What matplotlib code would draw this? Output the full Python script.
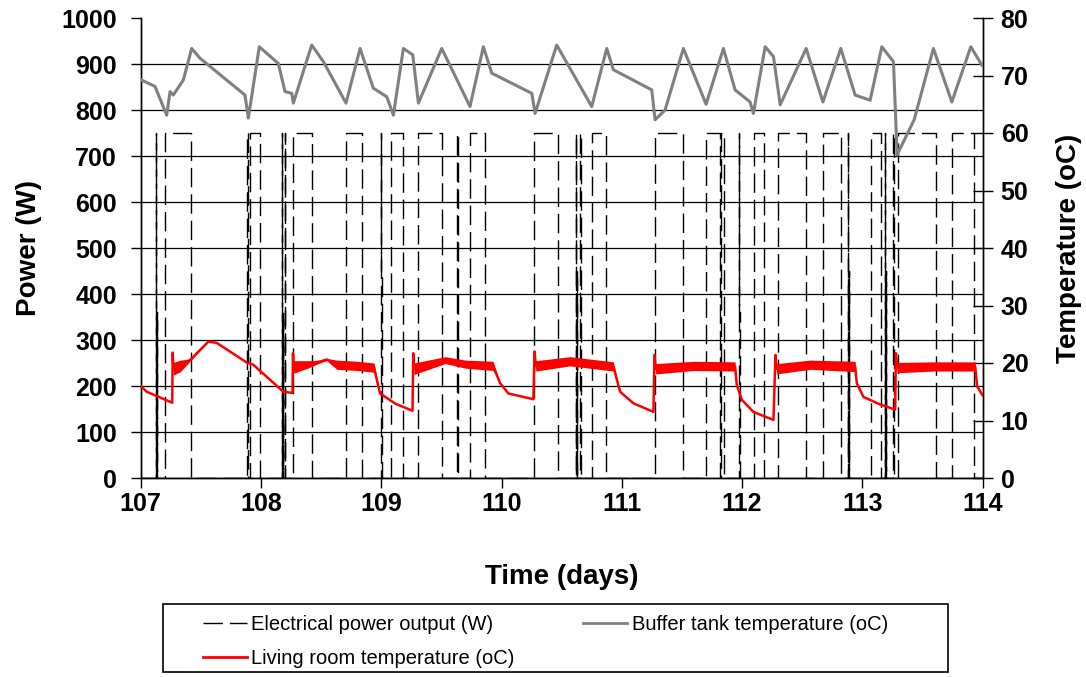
import matplotlib
matplotlib.use("Agg")
import matplotlib.pyplot as plt
from matplotlib.lines import Line2D
from matplotlib.patches import Rectangle
import numpy as np

plt.rcParams['font.family'] = ['Liberation Sans', 'DejaVu Sans']

# ---------------- data ----------------
x_ticks = [107, 108, 109, 110, 111, 112, 113, 114]
power_ticks = list(range(0, 1001, 100))
temp_ticks = list(range(0, 81, 10))

rated_power = 750  # W, level of the CHP on-periods

# on-periods of the electrical power output (days)
on_start = [107.128, 107.205, 107.886, 107.906, 108.174, 108.196, 108.267, 108.710,
            108.997, 109.081, 109.304, 109.632, 109.738, 110.273, 110.619, 110.655,
            110.753, 111.274, 111.704, 111.826, 111.972, 112.098, 112.300, 112.677,
            112.881, 113.071, 113.188, 113.258, 113.298, 113.749]
on_end = [107.131, 107.421, 107.890, 107.990, 108.177, 108.199, 108.425, 108.838,
          109.000, 109.184, 109.503, 109.635, 109.863, 110.473, 110.622, 110.658,
          110.872, 111.507, 111.820, 111.848, 111.975, 112.186, 112.535, 112.821,
          112.884, 113.154, 113.191, 113.261, 113.616, 113.930]

# short start-up spikes to partial power
spike_t = [107.134, 108.180, 109.002, 109.638, 110.625, 111.978, 112.887, 113.194, 113.264]
spike_p = [360, 360, 450, 360, 450, 360, 450, 450, 450]

# buffer tank temperature (oC)
buffer_t = [107.008, 107.119, 107.216, 107.244, 107.271, 107.354, 107.424, 107.493,
            107.867, 107.895, 107.986, 108.144, 108.200, 108.256, 108.269, 108.422,
            108.519, 108.707, 108.824, 108.934, 109.046, 109.101, 109.184, 109.262,
            109.309, 109.503, 109.738, 109.849, 109.919, 110.252, 110.279, 110.459,
            110.750, 110.875, 110.930, 111.249, 111.277, 111.360, 111.512, 111.701,
            111.845, 111.942, 112.067, 112.094, 112.192, 112.261, 112.317, 112.533,
            112.672, 112.821, 112.940, 113.065, 113.162, 113.259, 113.289, 113.431,
            113.591, 113.744, 113.902, 113.994]
buffer_T = [69.2, 68.1, 63.1, 67.2, 66.6, 69.2, 74.7, 73.0,
            66.6, 62.6, 75.0, 72.1, 67.2, 66.9, 65.2, 75.3,
            72.4, 65.2, 74.7, 67.8, 66.3, 63.1, 74.7, 73.6,
            65.2, 74.7, 64.6, 75.0, 70.4, 66.9, 63.4, 75.3,
            64.6, 74.7, 71.0, 67.5, 62.3, 64.0, 74.7, 65.0,
            74.7, 67.5, 65.4, 63.4, 75.0, 73.3, 64.9, 74.7,
            65.4, 74.7, 66.6, 65.7, 75.0, 72.4, 56.2, 62.3,
            74.7, 65.4, 75.0, 71.8]

# living room temperature (oC) and half-width of its fluctuation band
living_t = [107.000, 107.050, 107.262, 107.266, 107.272, 107.330, 107.410, 107.562,
            107.632, 107.881, 107.936, 108.186, 108.262, 108.266, 108.272, 108.400,
            108.500, 108.547, 108.630, 108.800, 108.940, 108.990, 109.120, 109.260,
            109.266, 109.272, 109.531, 109.700, 109.930, 109.988, 110.057, 110.265,
            110.275, 110.285, 110.570, 110.930, 110.986, 111.096, 111.263, 111.272,
            111.282, 111.600, 111.942, 111.956, 111.998, 112.094, 112.261, 112.278,
            112.288, 112.566, 112.940, 112.954, 113.009, 113.148, 113.273, 113.279,
            113.290, 113.600, 113.938, 113.955, 114.000]
living_T = [16.0, 15.0, 13.1, 21.8, 19.0, 19.5, 20.5, 23.7,
            23.5, 20.1, 19.7, 15.0, 14.8, 21.7, 19.3, 19.8,
            20.3, 20.6, 19.7, 19.5, 19.2, 14.7, 12.9, 11.7,
            21.7, 19.0, 20.5, 19.8, 19.5, 16.5, 14.7, 13.7,
            22.0, 19.5, 20.3, 19.4, 15.0, 13.0, 11.5, 21.4,
            19.0, 19.5, 19.4, 16.2, 13.6, 11.5, 10.1, 21.4,
            19.0, 19.7, 19.4, 16.5, 14.1, 12.8, 11.9, 21.7,
            19.2, 19.4, 19.4, 15.9, 14.4]
living_amp = [0, 0, 0, 0, 1.1, 1.0, 0.2, 0,
              0, 0, 0, 0, 0, 0, 1.1, 0.6,
              0.2, 0.2, 0.8, 0.8, 0.8, 0, 0, 0,
              0, 1.0, 0.6, 0.7, 0.8, 0, 0, 0,
              0, 0.9, 0.8, 0.8, 0, 0, 0, 0,
              0.9, 0.8, 0.8, 0, 0, 0, 0, 0,
              0.9, 0.8, 0.9, 0, 0, 0, 0, 0,
              0.9, 0.8, 0.8, 0, 0]

# ---------------- build power step series ----------------
segments = [(s, e, rated_power) for s, e in zip(on_start, on_end)]
segments += [(t, t + 0.0015, p) for t, p in zip(spike_t, spike_p)]
segments.sort()
pt, pp = [107.0], [0]
for s, e, lvl in segments:
    pt += [s, s, e, e]
    pp += [0, lvl, lvl, 0]
pt.append(114.0)
pp.append(0)

# ---------------- figure ----------------
W, H = 1086, 677
fig = plt.figure(figsize=(W / 100, H / 100), dpi=100)
ax_l, ax_r, ax_t, ax_b = 140.7, 982.6, 18, 478
ax = fig.add_axes([ax_l / W, 1 - ax_b / H, (ax_r - ax_l) / W, (ax_b - ax_t) / H])
ax2 = ax.twinx()

tick_fs = 18
lab_fs = 20

ax.plot(pt, pp, color='black', lw=1.0, dashes=(14, 5), zorder=3)
ax.set_xlim(107, 114)
ax.set_ylim(0, 1000)
ax.set_xticks(x_ticks)
ax.set_yticks(power_ticks)
ax.set_xticklabels([str(v) for v in x_ticks], fontsize=tick_fs, fontweight='bold')
ax.set_yticklabels([str(v) for v in power_ticks], fontsize=tick_fs, fontweight='bold')
ax.yaxis.grid(True, color='black', lw=0.9)
ax.set_axisbelow(True)
for gl in ax.get_ygridlines()[-1:]:
    gl.set_visible(False)
ax.tick_params(axis='y', direction='out', length=7, width=1, pad=10)
ax.tick_params(axis='x', direction='out', length=7, width=1, pad=3)
ax.set_ylabel('Power (W)', fontsize=lab_fs, fontweight='bold', labelpad=14)
ax.set_xlabel('Time (days)', fontsize=lab_fs, fontweight='bold', labelpad=35)

ax2.plot(buffer_t, buffer_T, color='#808080', lw=2.2, zorder=3)
lt = np.array(living_t)
lT = np.array(living_T)
la = np.array(living_amp)
ax2.fill_between(lt, lT - la, lT + la, color='red', lw=0, zorder=4)
ax2.plot(lt, lT, color='red', lw=1.8, zorder=5)
ax2.set_ylim(0, 80)
ax2.set_yticks(temp_ticks)
ax2.set_yticklabels([str(v) for v in temp_ticks], fontsize=tick_fs, fontweight='bold')
ax2.tick_params(axis='y', direction='inout', length=14, width=1, pad=6)
ax2.set_ylabel('Temperature (oC)', fontsize=lab_fs, fontweight='bold', labelpad=20)

for a in (ax, ax2):
    a.spines['top'].set_visible(False)
    for sp in ('left', 'right', 'bottom'):
        a.spines[sp].set_linewidth(1.0)
        a.spines[sp].set_color('black')

# ---------------- legend ----------------
handles = [
    Line2D([], [], color='black', lw=1.0, dashes=(14, 5)),
    Line2D([], [], color='red', lw=2.0),
    Line2D([], [], color='#808080', lw=2.0),
]
labels = ['Electrical power output (W)', 'Living room temperature (oC)',
          'Buffer tank temperature (oC)']
fig.legend(handles, labels, ncol=2, loc='upper left',
           bbox_to_anchor=(203 / W, 1 - 615 / H), frameon=False,
           fontsize=14.5, handlelength=2.2, handletextpad=0.2,
           columnspacing=3.4, labelspacing=0.75, borderpad=0, borderaxespad=0)
fig.patches.append(Rectangle((163 / W, 1 - 672 / H), (948 - 163) / W, (672 - 604) / H,
                             transform=fig.transFigure, fill=False,
                             edgecolor='black', lw=1.2))

fig.savefig('out.png', dpi=100)
